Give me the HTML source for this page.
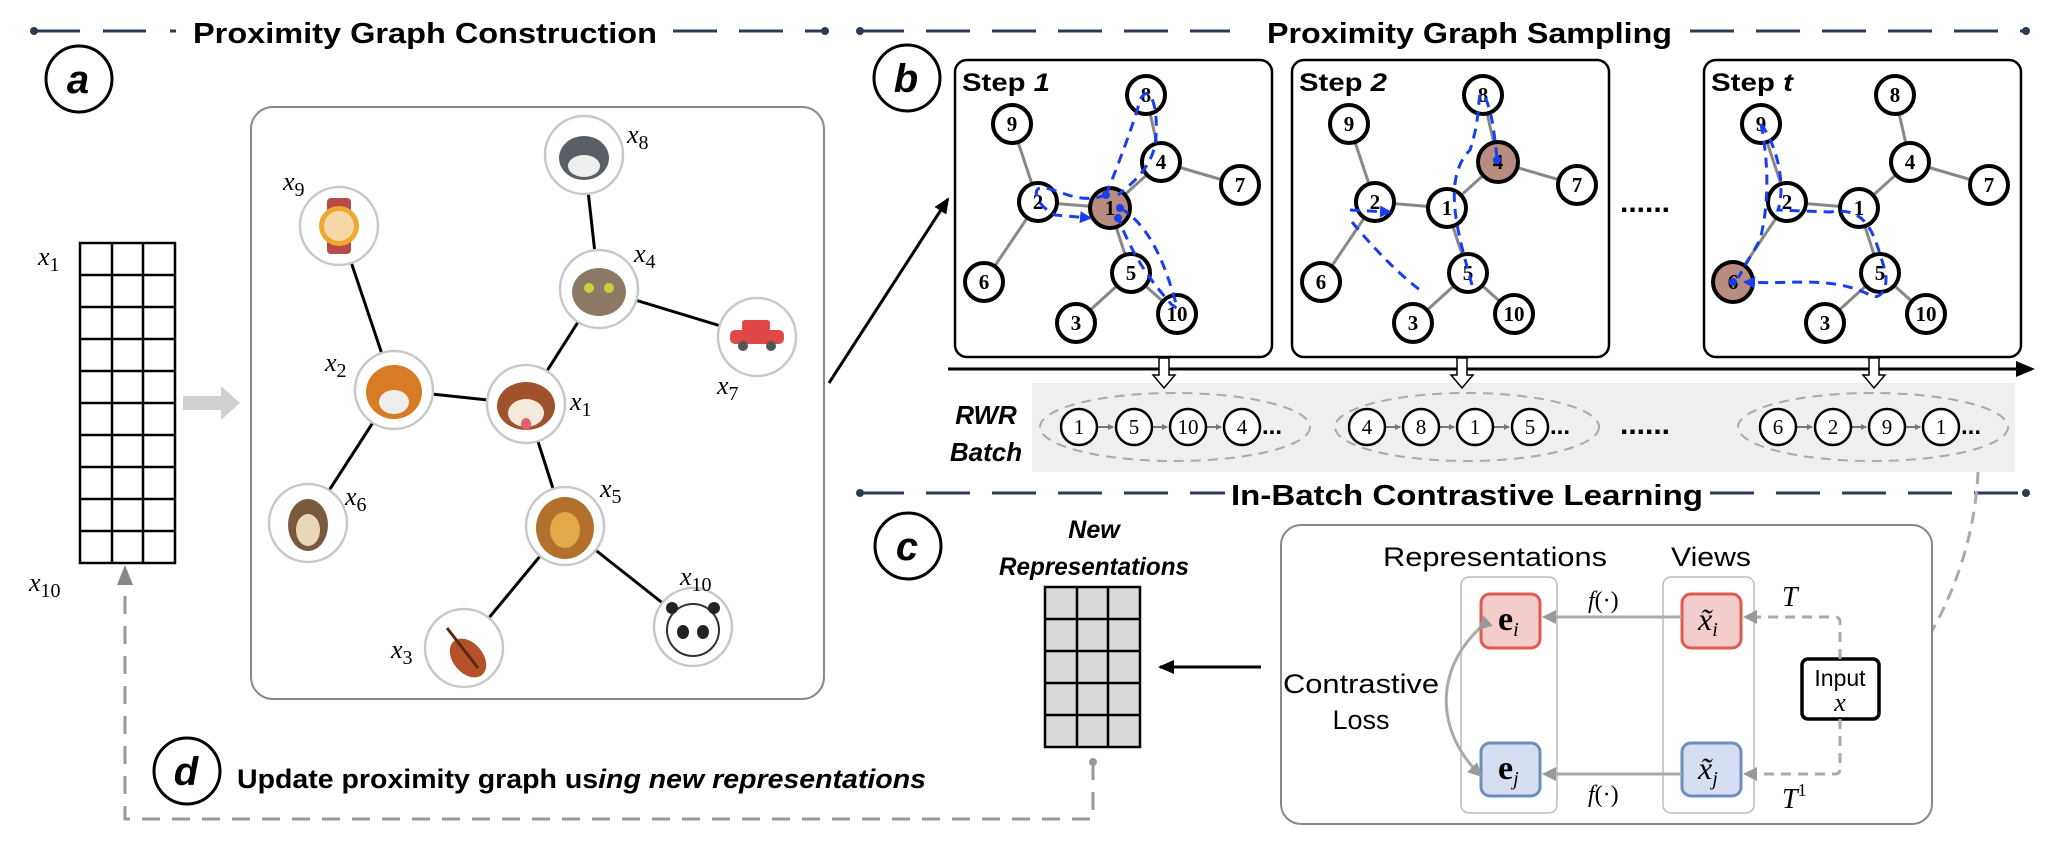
<!DOCTYPE html>
<html><head><meta charset="utf-8"><style>
html,body{margin:0;padding:0;background:#fff;}
svg{display:block;}
.h{font-family:"Liberation Sans",Arial,sans-serif;font-weight:bold;font-size:29px;fill:#000;}
.m{font-family:"Liberation Serif",serif;font-style:italic;font-size:26px;fill:#000;}
.sub{font-family:"Liberation Serif",serif;font-style:normal;font-size:20px;fill:#000;}
.n{font-family:"Liberation Serif",serif;font-weight:bold;font-size:21px;fill:#000;text-anchor:middle;}
.s{font-family:"Liberation Sans",Arial,sans-serif;font-weight:bold;font-size:25px;fill:#000;}
.t{font-family:"Liberation Sans",Arial,sans-serif;font-size:27px;fill:#000;}
</style></head><body>
<svg width="2048" height="858" viewBox="0 0 2048 858" xmlns="http://www.w3.org/2000/svg">
<defs>
<marker id="abl" markerWidth="12" markerHeight="12" refX="10" refY="6" orient="auto" markerUnits="userSpaceOnUse"><path d="M0,0 L12,6 L0,12 Z" fill="#1a3df0"/></marker>
<marker id="ag" markerWidth="14" markerHeight="14" refX="11" refY="7" orient="auto" markerUnits="userSpaceOnUse"><path d="M0,0 L14,7 L0,14 Z" fill="#999"/></marker>
<marker id="ak" markerWidth="16" markerHeight="16" refX="14" refY="8" orient="auto" markerUnits="userSpaceOnUse"><path d="M0,1 L16,8 L0,15 Z" fill="#000"/></marker>
<marker id="as" markerWidth="6" markerHeight="6" refX="5" refY="3" orient="auto" markerUnits="userSpaceOnUse"><path d="M0,0 L6,3 L0,6 Z" fill="#777"/></marker>
</defs>

<!-- Headers -->
<g stroke="#2d3a56" stroke-width="3" fill="none">
<path d="M34,31 H80 M103,31 H146 M170,31 H176 M673,31 H717 M739,31 H783 M805,31 H825"/>
<path d="M860,31 H1230 M1690,31 H2026" stroke-dasharray="44 22"/>
<path d="M860,493 H1225 M1710,493 H2026" stroke-dasharray="44 22"/>
</g>
<g fill="#2d3a56"><circle cx="34" cy="31" r="4"/><circle cx="825" cy="31" r="4"/><circle cx="860" cy="31" r="4"/><circle cx="2026" cy="31" r="4"/><circle cx="860" cy="493" r="4"/><circle cx="2026" cy="493" r="4"/></g>
<text class="h" x="193" y="43" textLength="464" lengthAdjust="spacingAndGlyphs">Proximity Graph Construction</text>
<text class="h" x="1267" y="43" textLength="405" lengthAdjust="spacingAndGlyphs">Proximity Graph Sampling</text>
<text class="h" x="1231" y="505" textLength="472" lengthAdjust="spacingAndGlyphs">In-Batch Contrastive Learning</text>

<!-- letter circles -->
<g stroke="#000" stroke-width="3" fill="#fff">
<circle cx="79" cy="79" r="33"/><circle cx="907" cy="78" r="33"/><circle cx="908" cy="546" r="33"/><circle cx="187" cy="771" r="33"/>
</g>
<g font-family="Liberation Sans,Arial,sans-serif" font-weight="bold" font-style="italic" font-size="40" text-anchor="middle">
<text x="78" y="93">a</text><text x="906" y="92">b</text><text x="907" y="560">c</text><text x="186" y="785">d</text>
</g>

<!-- matrix a -->
<g stroke="#000" stroke-width="2.5" fill="#fff">
<rect x="80" y="243" width="95" height="320"/>
<path d="M112,243 V563 M143,243 V563"/>
<path d="M80,275 H175 M80,307 H175 M80,339 H175 M80,371 H175 M80,403 H175 M80,435 H175 M80,467 H175 M80,499 H175 M80,531 H175"/>
</g>
<text class="m" x="38" y="265">x<tspan class="sub" dy="6">1</tspan></text>
<text class="m" x="29" y="591">x<tspan class="sub" dy="6">10</tspan></text>
<path d="M183,396 H221 V386 L240,403 L221,420 V410 H183 Z" fill="#d0d0d0"/>

<!-- graph box -->
<rect x="251" y="107" width="573" height="592" rx="22" fill="#fff" stroke="#888" stroke-width="2"/>
<g stroke="#000" stroke-width="3">
<line x1="584" y1="155" x2="599" y2="289"/><line x1="339" y1="226" x2="394" y2="390"/>
<line x1="599" y1="289" x2="757" y2="337"/><line x1="599" y1="289" x2="526" y2="404"/>
<line x1="394" y1="390" x2="526" y2="404"/><line x1="394" y1="390" x2="308" y2="523"/>
<line x1="526" y1="404" x2="565" y2="526"/><line x1="565" y1="526" x2="464" y2="648"/>
<line x1="565" y1="526" x2="693" y2="627"/>
</g>
<g stroke="#c8c8c8" stroke-width="2.5" fill="#fff">
<circle cx="584" cy="155" r="39"/><circle cx="339" cy="226" r="39"/><circle cx="599" cy="289" r="39"/>
<circle cx="757" cy="337" r="39"/><circle cx="394" cy="390" r="39"/><circle cx="526" cy="404" r="39"/>
<circle cx="308" cy="523" r="39"/><circle cx="565" cy="526" r="39"/><circle cx="464" cy="648" r="39"/><circle cx="693" cy="627" r="39"/>
</g>
<g>
<ellipse cx="584" cy="158" rx="25" ry="22" fill="#5a5f66"/><ellipse cx="584" cy="166" rx="16" ry="11" fill="#eee"/>
<rect x="327" y="198" width="24" height="56" rx="4" fill="#b84a4a"/><circle cx="339" cy="226" r="20" fill="#f0a830"/><circle cx="339" cy="226" r="15" fill="#f7d9a8"/>
<ellipse cx="599" cy="292" rx="27" ry="24" fill="#8c7a66"/><circle cx="589" cy="288" r="5" fill="#c8d23a"/><circle cx="609" cy="288" r="5" fill="#c8d23a"/>
<rect x="730" y="330" width="54" height="14" rx="5" fill="#e04848"/><rect x="742" y="320" width="28" height="12" rx="3" fill="#e04848"/><circle cx="743" cy="346" r="5" fill="#555"/><circle cx="771" cy="346" r="5" fill="#555"/>
<ellipse cx="394" cy="392" rx="28" ry="27" fill="#d97a24"/><ellipse cx="394" cy="402" rx="15" ry="12" fill="#eee"/>
<ellipse cx="526" cy="406" rx="29" ry="24" fill="#a0522d"/><ellipse cx="526" cy="413" rx="18" ry="14" fill="#f4eadc"/><ellipse cx="526" cy="424" rx="5" ry="6" fill="#e06070"/>
<ellipse cx="308" cy="525" rx="20" ry="26" fill="#7a5a3c"/><ellipse cx="308" cy="530" rx="12" ry="16" fill="#e8d8b8"/>
<ellipse cx="565" cy="528" rx="29" ry="31" fill="#b2702c"/><ellipse cx="565" cy="530" rx="15" ry="18" fill="#e3a848"/>
<ellipse cx="468" cy="658" rx="15" ry="22" fill="#b5512a" transform="rotate(-40 468 658)"/><line x1="447" y1="628" x2="478" y2="668" stroke="#5a2a12" stroke-width="3"/>
<circle cx="693" cy="630" r="26" fill="#fff" stroke="#333" stroke-width="2"/><ellipse cx="683" cy="632" rx="6" ry="7" fill="#222"/><ellipse cx="703" cy="632" rx="6" ry="7" fill="#222"/><circle cx="672" cy="608" r="6" fill="#222"/><circle cx="714" cy="608" r="6" fill="#222"/>
</g>
<text class="m" x="627" y="143">x<tspan class="sub" dy="6">8</tspan></text>
<text class="m" x="283" y="190">x<tspan class="sub" dy="6">9</tspan></text>
<text class="m" x="634" y="262">x<tspan class="sub" dy="6">4</tspan></text>
<text class="m" x="717" y="394">x<tspan class="sub" dy="6">7</tspan></text>
<text class="m" x="325" y="371">x<tspan class="sub" dy="6">2</tspan></text>
<text class="m" x="570" y="410">x<tspan class="sub" dy="6">1</tspan></text>
<text class="m" x="345" y="505">x<tspan class="sub" dy="6">6</tspan></text>
<text class="m" x="600" y="497">x<tspan class="sub" dy="6">5</tspan></text>
<text class="m" x="391" y="658">x<tspan class="sub" dy="6">3</tspan></text>
<text class="m" x="680" y="585">x<tspan class="sub" dy="6">10</tspan></text>

<line x1="829" y1="383" x2="948" y2="199" stroke="#000" stroke-width="3" marker-end="url(#ak)"/>

<!-- Step panels -->
<rect x="955" y="60" width="317" height="297" rx="12" fill="#fff" stroke="#000" stroke-width="2.5"/>
<g stroke="#888" stroke-width="3">
<line x1="1146" y1="95" x2="1161" y2="162"/><line x1="1012" y1="124" x2="1038" y2="202"/>
<line x1="1161" y1="162" x2="1240" y2="185"/><line x1="1161" y1="162" x2="1110" y2="208"/>
<line x1="1038" y1="202" x2="1110" y2="208"/><line x1="1038" y1="202" x2="984" y2="282"/>
<line x1="1110" y1="208" x2="1131" y2="273"/><line x1="1131" y1="273" x2="1076" y2="323"/>
<line x1="1131" y1="273" x2="1177" y2="314"/>
</g>
<g stroke="#000" stroke-width="4" fill="#fff">
<circle cx="1146" cy="95" r="19"/><circle cx="1012" cy="124" r="19"/><circle cx="1161" cy="162" r="19"/><circle cx="1240" cy="185" r="19"/><circle cx="1038" cy="202" r="19"/><circle cx="1110" cy="208" r="20" fill="#b98c80"/><circle cx="984" cy="282" r="19"/><circle cx="1131" cy="273" r="19"/><circle cx="1076" cy="323" r="19"/><circle cx="1177" cy="314" r="19"/>
</g>
<text x="1146" y="102" class="n">8</text><text x="1012" y="131" class="n">9</text><text x="1161" y="169" class="n">4</text><text x="1240" y="192" class="n">7</text><text x="1038" y="209" class="n">2</text><text x="1110" y="215" class="n">1</text><text x="984" y="289" class="n">6</text><text x="1131" y="280" class="n">5</text><text x="1076" y="330" class="n">3</text><text x="1177" y="321" class="n">10</text>
<text class="s" x="962" y="91" textLength="88" lengthAdjust="spacingAndGlyphs">Step <tspan font-style="italic">1</tspan></text>

<g transform="translate(337,0)">
<rect x="955" y="60" width="317" height="297" rx="12" fill="#fff" stroke="#000" stroke-width="2.5"/>
<g stroke="#888" stroke-width="3">
<line x1="1146" y1="95" x2="1161" y2="162"/><line x1="1012" y1="124" x2="1038" y2="202"/>
<line x1="1161" y1="162" x2="1240" y2="185"/><line x1="1161" y1="162" x2="1110" y2="208"/>
<line x1="1038" y1="202" x2="1110" y2="208"/><line x1="1038" y1="202" x2="984" y2="282"/>
<line x1="1110" y1="208" x2="1131" y2="273"/><line x1="1131" y1="273" x2="1076" y2="323"/>
<line x1="1131" y1="273" x2="1177" y2="314"/>
</g>
<g stroke="#000" stroke-width="4" fill="#fff">
<circle cx="1146" cy="95" r="19"/><circle cx="1012" cy="124" r="19"/><circle cx="1161" cy="162" r="20" fill="#b98c80"/><circle cx="1240" cy="185" r="19"/><circle cx="1038" cy="202" r="19"/><circle cx="1110" cy="208" r="19"/><circle cx="984" cy="282" r="19"/><circle cx="1131" cy="273" r="19"/><circle cx="1076" cy="323" r="19"/><circle cx="1177" cy="314" r="19"/>
</g>
<text x="1146" y="102" class="n">8</text><text x="1012" y="131" class="n">9</text><text x="1161" y="169" class="n">4</text><text x="1240" y="192" class="n">7</text><text x="1038" y="209" class="n">2</text><text x="1110" y="215" class="n">1</text><text x="984" y="289" class="n">6</text><text x="1131" y="280" class="n">5</text><text x="1076" y="330" class="n">3</text><text x="1177" y="321" class="n">10</text>
<text class="s" x="962" y="91" textLength="88" lengthAdjust="spacingAndGlyphs">Step <tspan font-style="italic">2</tspan></text>
</g>

<g transform="translate(749,0)">
<rect x="955" y="60" width="317" height="297" rx="12" fill="#fff" stroke="#000" stroke-width="2.5"/>
<g stroke="#888" stroke-width="3">
<line x1="1146" y1="95" x2="1161" y2="162"/><line x1="1012" y1="124" x2="1038" y2="202"/>
<line x1="1161" y1="162" x2="1240" y2="185"/><line x1="1161" y1="162" x2="1110" y2="208"/>
<line x1="1038" y1="202" x2="1110" y2="208"/><line x1="1038" y1="202" x2="984" y2="282"/>
<line x1="1110" y1="208" x2="1131" y2="273"/><line x1="1131" y1="273" x2="1076" y2="323"/>
<line x1="1131" y1="273" x2="1177" y2="314"/>
</g>
<g stroke="#000" stroke-width="4" fill="#fff">
<circle cx="1146" cy="95" r="19"/><circle cx="1012" cy="124" r="19"/><circle cx="1161" cy="162" r="19"/><circle cx="1240" cy="185" r="19"/><circle cx="1038" cy="202" r="19"/><circle cx="1110" cy="208" r="19"/><circle cx="984" cy="282" r="20" fill="#b98c80"/><circle cx="1131" cy="273" r="19"/><circle cx="1076" cy="323" r="19"/><circle cx="1177" cy="314" r="19"/>
</g>
<text x="1146" y="102" class="n">8</text><text x="1012" y="131" class="n">9</text><text x="1161" y="169" class="n">4</text><text x="1240" y="192" class="n">7</text><text x="1038" y="209" class="n">2</text><text x="1110" y="215" class="n">1</text><text x="984" y="289" class="n">6</text><text x="1131" y="280" class="n">5</text><text x="1076" y="330" class="n">3</text><text x="1177" y="321" class="n">10</text>
<text class="s" x="962" y="91" textLength="82" lengthAdjust="spacingAndGlyphs">Step <tspan font-style="italic">t</tspan></text>
</g>

<!-- blue walks -->
<g stroke="#1a3df0" stroke-width="3" fill="none" stroke-dasharray="10 7">
<path d="M1106,195 C1080,205 1060,190 1045,188 C1030,185 1035,205 1055,215 L1090,218" marker-end="url(#abl)"/>
<path d="M1106,195 C1120,160 1135,120 1140,100 C1150,80 1160,110 1155,145 C1150,170 1130,185 1118,195"/>
<path d="M1120,208 C1150,225 1165,265 1175,300 C1180,315 1175,305 1172,305 C1150,280 1135,260 1118,218"/>
<path d="M1350,210 L1390,212" marker-end="url(#abl)"/>
<path d="M1352,222 C1375,250 1400,275 1420,290"/>
<path d="M1472,285 C1460,240 1440,180 1470,150 C1480,120 1478,100 1480,95 C1485,90 1490,110 1493,125 L1497,157"/>
<path d="M1761,124 C1780,150 1785,190 1778,210 L1830,212 C1870,205 1875,240 1885,270 C1890,295 1875,300 1870,295 C1830,275 1790,285 1745,282" marker-end="url(#abl)"/>
<path d="M1761,124 C1768,160 1770,200 1760,240 L1738,278"/>
</g>
<g fill="#1a3df0"><circle cx="1106" cy="195" r="4"/><circle cx="1120" cy="208" r="4"/><circle cx="1118" cy="218" r="4"/><circle cx="1497" cy="160" r="4"/><circle cx="1733" cy="282" r="4"/></g>

<text x="1620" y="212" font-family="Liberation Sans,Arial,sans-serif" font-weight="bold" font-size="30">......</text>

<line x1="948" y1="369" x2="2018" y2="369" stroke="#000" stroke-width="3"/>
<path d="M2016,361 L2035,369 L2016,377 Z" fill="#000"/>

<rect x="1032" y="383" width="983" height="89" fill="#efefef"/>
<g fill="#fff" stroke="#000" stroke-width="1.5">
<path d="M1159,358 h10 v17 h6 l-11,13 l-11,-13 h6 z"/>
<path d="M1457,358 h10 v17 h6 l-11,13 l-11,-13 h6 z"/>
<path d="M1869,358 h10 v17 h6 l-11,13 l-11,-13 h6 z"/>
</g>
<text x="986" y="424" text-anchor="middle" font-family="Liberation Sans,Arial,sans-serif" font-weight="bold" font-style="italic" font-size="26">RWR</text>
<text x="986" y="461" text-anchor="middle" font-family="Liberation Sans,Arial,sans-serif" font-weight="bold" font-style="italic" font-size="26">Batch</text>
<g fill="none" stroke="#aaa" stroke-width="2" stroke-dasharray="10 7">
<ellipse cx="1175" cy="427" rx="135" ry="34"/><ellipse cx="1467" cy="427" rx="132" ry="34"/><ellipse cx="1873" cy="427" rx="135" ry="34"/>
</g>
<g stroke="#777" stroke-width="2">
<line x1="1098" y1="427" x2="1113" y2="427" marker-end="url(#as)"/><line x1="1153" y1="427" x2="1167" y2="427" marker-end="url(#as)"/><line x1="1207" y1="427" x2="1221" y2="427" marker-end="url(#as)"/>
<line x1="1386" y1="427" x2="1400" y2="427" marker-end="url(#as)"/><line x1="1440" y1="427" x2="1454" y2="427" marker-end="url(#as)"/><line x1="1494" y1="427" x2="1509" y2="427" marker-end="url(#as)"/>
<line x1="1797" y1="427" x2="1812" y2="427" marker-end="url(#as)"/><line x1="1852" y1="427" x2="1866" y2="427" marker-end="url(#as)"/><line x1="1906" y1="427" x2="1920" y2="427" marker-end="url(#as)"/>
</g>
<g stroke="#000" stroke-width="2.5" fill="#fff">
<circle cx="1079" cy="427" r="18"/><circle cx="1134" cy="427" r="18"/><circle cx="1188" cy="427" r="18"/><circle cx="1242" cy="427" r="18"/>
<circle cx="1367" cy="427" r="18"/><circle cx="1421" cy="427" r="18"/><circle cx="1475" cy="427" r="18"/><circle cx="1530" cy="427" r="18"/>
<circle cx="1778" cy="427" r="18"/><circle cx="1833" cy="427" r="18"/><circle cx="1887" cy="427" r="18"/><circle cx="1941" cy="427" r="18"/>
</g>
<g font-family="Liberation Serif,serif" font-size="21" text-anchor="middle">
<text x="1079" y="434">1</text><text x="1134" y="434">5</text><text x="1188" y="434">10</text><text x="1242" y="434">4</text>
<text x="1367" y="434">4</text><text x="1421" y="434">8</text><text x="1475" y="434">1</text><text x="1530" y="434">5</text>
<text x="1778" y="434">6</text><text x="1833" y="434">2</text><text x="1887" y="434">9</text><text x="1941" y="434">1</text>
</g>
<g font-family="Liberation Sans,Arial,sans-serif" font-weight="bold" font-size="24">
<text x="1262" y="434">...</text><text x="1550" y="434">...</text><text x="1961" y="434">...</text>
<text x="1620" y="434" font-size="30">......</text>
</g>

<path d="M1978,472 C1975,540 1950,620 1892,688" fill="none" stroke="#aaa" stroke-width="3" stroke-dasharray="12 8" marker-end="url(#ag)"/>

<text x="1094" y="538" text-anchor="middle" font-family="Liberation Sans,Arial,sans-serif" font-weight="bold" font-style="italic" font-size="25">New</text>
<text x="1094" y="575" text-anchor="middle" font-family="Liberation Sans,Arial,sans-serif" font-weight="bold" font-style="italic" font-size="25" textLength="190" lengthAdjust="spacingAndGlyphs">Representations</text>
<g stroke="#000" stroke-width="2.5">
<rect x="1045" y="587" width="95" height="160" fill="#d9d9d9"/>
<path d="M1077,587 V747 M1108,587 V747 M1045,619 H1140 M1045,651 H1140 M1045,683 H1140 M1045,715 H1140"/>
</g>
<line x1="1261" y1="667" x2="1160" y2="667" stroke="#000" stroke-width="3" marker-end="url(#ak)"/>

<rect x="1281" y="525" width="651" height="299" rx="20" fill="#fff" stroke="#888" stroke-width="2"/>
<text class="t" x="1383" y="566" textLength="224" lengthAdjust="spacingAndGlyphs">Representations</text>
<text class="t" x="1671" y="566" textLength="80" lengthAdjust="spacingAndGlyphs">Views</text>
<rect x="1461" y="577" width="96" height="236" rx="8" fill="none" stroke="#bbb" stroke-width="1.5"/>
<rect x="1663" y="577" width="91" height="236" rx="8" fill="none" stroke="#bbb" stroke-width="1.5"/>
<rect x="1481" y="594" width="59" height="54" rx="9" fill="#f4cccc" stroke="#e05a4e" stroke-width="3"/>
<rect x="1481" y="743" width="59" height="53" rx="9" fill="#d6dff2" stroke="#6c8ebf" stroke-width="3"/>
<rect x="1682" y="594" width="59" height="54" rx="9" fill="#f4cccc" stroke="#e05a4e" stroke-width="3"/>
<rect x="1682" y="743" width="59" height="53" rx="9" fill="#d6dff2" stroke="#6c8ebf" stroke-width="3"/>
<text x="1498" y="630" font-family="Liberation Serif,serif" font-weight="bold" font-size="34">e<tspan font-weight="normal" font-style="italic" font-size="20" dy="6">i</tspan></text>
<text x="1498" y="779" font-family="Liberation Serif,serif" font-weight="bold" font-size="34">e<tspan font-weight="normal" font-style="italic" font-size="20" dy="6">j</tspan></text>
<text x="1698" y="630" font-family="Liberation Serif,serif" font-style="italic" font-size="32">x̃<tspan font-size="20" dy="6">i</tspan></text>
<text x="1698" y="779" font-family="Liberation Serif,serif" font-style="italic" font-size="32">x̃<tspan font-size="20" dy="6">j</tspan></text>
<line x1="1682" y1="617" x2="1545" y2="617" stroke="#aaa" stroke-width="3" marker-end="url(#ag)"/>
<line x1="1682" y1="774" x2="1545" y2="774" stroke="#aaa" stroke-width="3" marker-end="url(#ag)"/>
<text x="1588" y="608" font-family="Liberation Serif,serif" font-style="italic" font-size="24">f<tspan font-style="normal">(·)</tspan></text>
<text x="1588" y="802" font-family="Liberation Serif,serif" font-style="italic" font-size="24">f<tspan font-style="normal">(·)</tspan></text>
<text class="t" x="1361" y="693" text-anchor="middle" textLength="156" lengthAdjust="spacingAndGlyphs">Contrastive</text>
<text class="t" x="1361" y="729" text-anchor="middle">Loss</text>
<path d="M1480,628 C1435,670 1435,730 1480,775" fill="none" stroke="#aaa" stroke-width="3" marker-end="url(#ag)" marker-start="url(#ag)"/>
<rect x="1802" y="659" width="77" height="60" rx="6" fill="#fff" stroke="#000" stroke-width="3.5"/>
<text x="1840" y="686" text-anchor="middle" font-family="Liberation Sans,Arial,sans-serif" font-size="23">Input</text>
<text x="1840" y="711" text-anchor="middle" font-family="Liberation Serif,serif" font-style="italic" font-size="26">x</text>
<path d="M1840,659 V622 Q1840,617 1835,617 H1746" fill="none" stroke="#aaa" stroke-width="3" stroke-dasharray="10 7" marker-end="url(#ag)"/>
<path d="M1840,719 V769 Q1840,774 1835,774 H1746" fill="none" stroke="#aaa" stroke-width="3" stroke-dasharray="10 7" marker-end="url(#ag)"/>
<text x="1782" y="606" font-family="Liberation Serif,serif" font-style="italic" font-size="28">T</text>
<text x="1782" y="808" font-family="Liberation Serif,serif" font-style="italic" font-size="28">T<tspan font-style="normal" font-size="18" dy="-12">1</tspan></text>

<text x="237" y="788" font-family="Liberation Sans,Arial,sans-serif" font-size="27" font-weight="bold" textLength="689" lengthAdjust="spacingAndGlyphs">Update proximity graph us<tspan font-style="italic">ing new representations</tspan></text>
<path d="M1093,762 V819 H125 V590" fill="none" stroke="#999" stroke-width="3" stroke-dasharray="18 12"/>
<path d="M117,585 L125,565 L133,585 Z" fill="#888"/>
<circle cx="1093" cy="762" r="4" fill="#999"/>
</svg>
</body></html>
